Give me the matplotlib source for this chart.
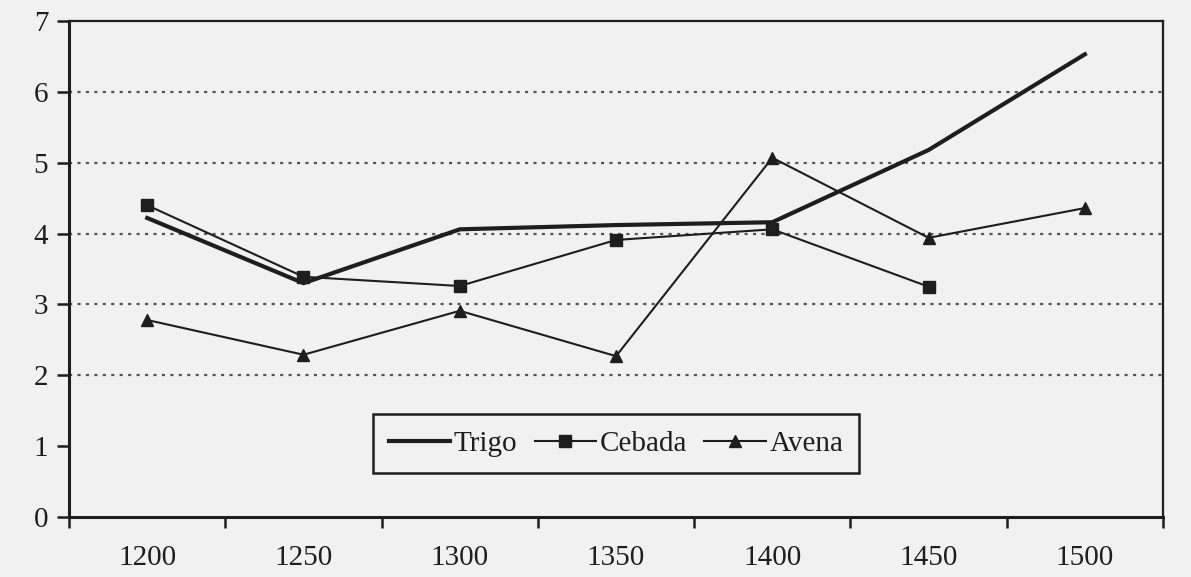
import numpy as np
import matplotlib.pyplot as plt
from matplotlib.ticker import FixedLocator, NullFormatter

years = ['1200', '1250', '1300', '1350', '1400', '1450', '1500']
trigo = [4.22, 3.30, 4.06, 4.12, 4.16, 5.18, 6.53]
cebada = [4.40, 3.39, 3.26, 3.91, 4.06, 3.25]
avena = [2.78, 2.29, 2.91, 2.27, 5.07, 3.94, 4.36]

plt.rcParams['font.family'] = ['Liberation Serif', 'DejaVu Serif']
ink = '#1e1e1e'
bg = '#f1f1f1'

fig = plt.figure(figsize=(11.91, 5.77), dpi=100, facecolor=bg)
ax = fig.add_axes([0.058, 0.104, 0.9185, 0.8596], facecolor=bg)

x = np.arange(len(years)) + 0.5  # category centres

# dotted gridlines like the original print (none at 1)
for g in range(2, 7):
    ax.axhline(g, color='#555555', lw=1.6, dashes=(1.4, 2.4), zorder=1)

ax.plot(x, trigo, color=ink, lw=3.0, label='Trigo', zorder=3)
ax.plot(x[:len(cebada)], cebada, color=ink, lw=1.5, marker='s', ms=9, label='Cebada', zorder=4)
ax.plot(x, avena, color=ink, lw=1.5, marker='^', ms=9, label='Avena', zorder=4)

ax.set_xlim(0, len(years))
ax.set_ylim(0, 7)

# category axis: ticks between categories, labels at centres
ax.xaxis.set_major_locator(FixedLocator(np.arange(len(years) + 1)))
ax.xaxis.set_major_formatter(NullFormatter())
ax.xaxis.set_minor_locator(FixedLocator(x))
ax.set_xticklabels(years, minor=True)
ax.tick_params(axis='x', which='major', direction='out', length=8, width=1.8, color=ink)
ax.tick_params(axis='x', which='minor', length=0, pad=20, labelsize=21, labelcolor=ink)

ax.set_yticks(range(0, 8))
ax.tick_params(axis='y', direction='out', length=9, width=1.8, color=ink, labelsize=21, labelcolor=ink, pad=6)

for side in ['left', 'bottom']:
    ax.spines[side].set_linewidth(2.2)
    ax.spines[side].set_color(ink)
for side in ['top', 'right']:
    ax.spines[side].set_linewidth(1.6)
    ax.spines[side].set_color(ink)

leg = ax.legend(loc='center', bbox_to_anchor=(0.5, 0.148), ncol=3, fontsize=21,
                frameon=True, fancybox=False, edgecolor=ink, facecolor=bg,
                handlelength=2.1, handletextpad=0.12, columnspacing=0.6,
                borderpad=0.55, framealpha=1)
leg.get_frame().set_linewidth(1.8)
for t in leg.get_texts():
    t.set_color(ink)

fig.savefig('out.png', dpi=100, facecolor=bg)
